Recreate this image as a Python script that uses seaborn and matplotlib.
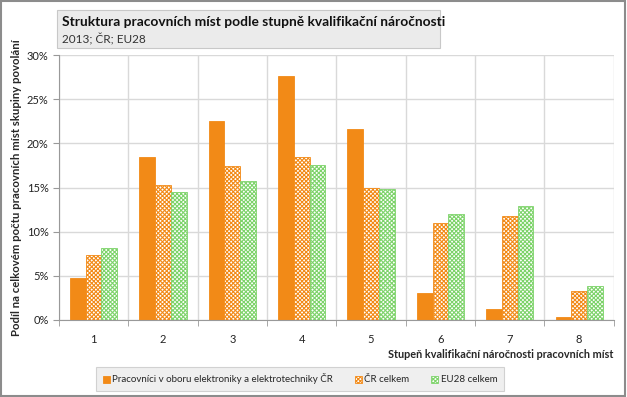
import matplotlib
matplotlib.use("Agg")
import matplotlib.pyplot as plt
import matplotlib.patches as mpatches
import matplotlib.ticker as mticker
import seaborn as sns
import pandas as pd

# Data (percent)
levels = ["1", "2", "3", "4", "5", "6", "7", "8"]
series = ["Pracovníci v oboru elektroniky a elektrotechniky ČR", "ČR celkem", "EU28 celkem"]
elektro = [4.7, 18.5, 22.5, 27.6, 21.6, 3.1, 1.3, 0.3]
cr_total = [7.4, 15.3, 17.4, 18.5, 14.9, 11.0, 11.8, 3.3]
eu_total = [8.1, 14.5, 15.7, 17.6, 14.8, 12.0, 12.9, 3.9]

ORANGE = "#f28a17"
GREEN = "#7dd36a"

df = pd.DataFrame({
    "level": levels * 3,
    "series": [series[0]] * 8 + [series[1]] * 8 + [series[2]] * 8,
    "value": elektro + cr_total + eu_total,
})

sns.set_style("white")
plt.rcParams["font.family"] = ["Lato", "DejaVu Sans"]
plt.rcParams["hatch.linewidth"] = 0.8

fig = plt.figure(figsize=(6.27, 3.97), dpi=100)
ax = fig.add_axes([0.094, 0.194, 0.885, 0.667])

sns.barplot(data=df, x="level", y="value", hue="series", hue_order=series,
            palette=[ORANGE, ORANGE, GREEN], width=0.68, gap=0,
            legend=False, ax=ax)

# styling per series: solid, checkered orange, checkered green
styles = [
    dict(face=ORANGE, edge=ORANGE, hatch=None),
    dict(face="white", edge=ORANGE, hatch="xxxxxxxx"),
    dict(face="white", edge=GREEN, hatch="xxxxxxxx"),
]
for cont, st in zip(ax.containers, styles):
    for bar in cont:
        bar.set_facecolor(st["face"])
        bar.set_edgecolor(st["edge"])
        bar.set_linewidth(0.6)
        if st["hatch"]:
            bar.set_hatch(st["hatch"])

ax.set_ylim(0, 30)
ax.set_xlim(-0.5, 7.5)
ax.yaxis.set_major_locator(mticker.MultipleLocator(5))
ax.yaxis.set_major_formatter(mticker.FuncFormatter(lambda v, _: f"{int(v)}%"))

# vertical grid at category boundaries (Excel style)
ax.set_xticks(range(8))
ax.set_xticks([i + 0.5 for i in range(-1, 8)], minor=True)
ax.grid(axis="y", color="#d9d9d9", lw=1)
ax.grid(axis="x", which="minor", color="#d9d9d9", lw=1)
ax.set_axisbelow(True)
ax.tick_params(axis="x", which="major", length=0, pad=10, labelsize=8, colors="#222222")
ax.tick_params(axis="x", which="minor", length=4, color="#999999", bottom=True)
ax.tick_params(axis="y", length=4, color="#999999", left=True, labelsize=8, colors="#222222")
for side in ["top", "right"]:
    ax.spines[side].set_visible(False)
ax.spines["left"].set_color("#999999")
ax.spines["bottom"].set_color("#999999")

ax.set_xlabel("Stupeň kvalifikační náročnosti pracovních míst", fontsize=7.8,
              fontweight="bold", loc="right", labelpad=3)
ax.set_ylabel("Podíl na celkovém počtu pracovních míst skupiny povolání", fontsize=8.2,
              fontweight="bold", labelpad=3)

# title box
fig.patches.append(mpatches.Rectangle((57 / 627, 1 - 48 / 397), 383 / 627, 38 / 397,
                                      transform=fig.transFigure, facecolor="#ebebeb",
                                      edgecolor="#c8c8c8", lw=0.8))
fig.text(62 / 627, 1 - 22 / 397, "Struktura pracovních míst podle stupně kvalifikační náročnosti",
         fontsize=9.9, fontweight="bold", va="center", color="#111111")
fig.text(62 / 627, 1 - 39 / 397, "2013; ČR; EU28", fontsize=8.5, va="center", color="#333333")

# legend
handles = [mpatches.Patch(facecolor=s["face"], edgecolor=s["edge"], hatch=s["hatch"], lw=0.6)
           for s in styles]
leg = fig.legend(handles, series, loc="center", bbox_to_anchor=(300 / 627, 1 - 379 / 397),
                 ncol=3, fontsize=7, frameon=True, fancybox=False, handlelength=0.7,
                 handleheight=0.7, columnspacing=2.2, handletextpad=0.3, borderpad=0.7)
leg.get_frame().set_facecolor("#ebebeb")
leg.get_frame().set_edgecolor("#c8c8c8")
leg.get_frame().set_linewidth(0.8)

# outer border
fig.patches.append(mpatches.Rectangle((0.002, 0.003), 0.995, 0.994, transform=fig.transFigure,
                                      facecolor="none", edgecolor="#8c8c8c", lw=1.5))

fig.savefig("out.png", dpi=100)
